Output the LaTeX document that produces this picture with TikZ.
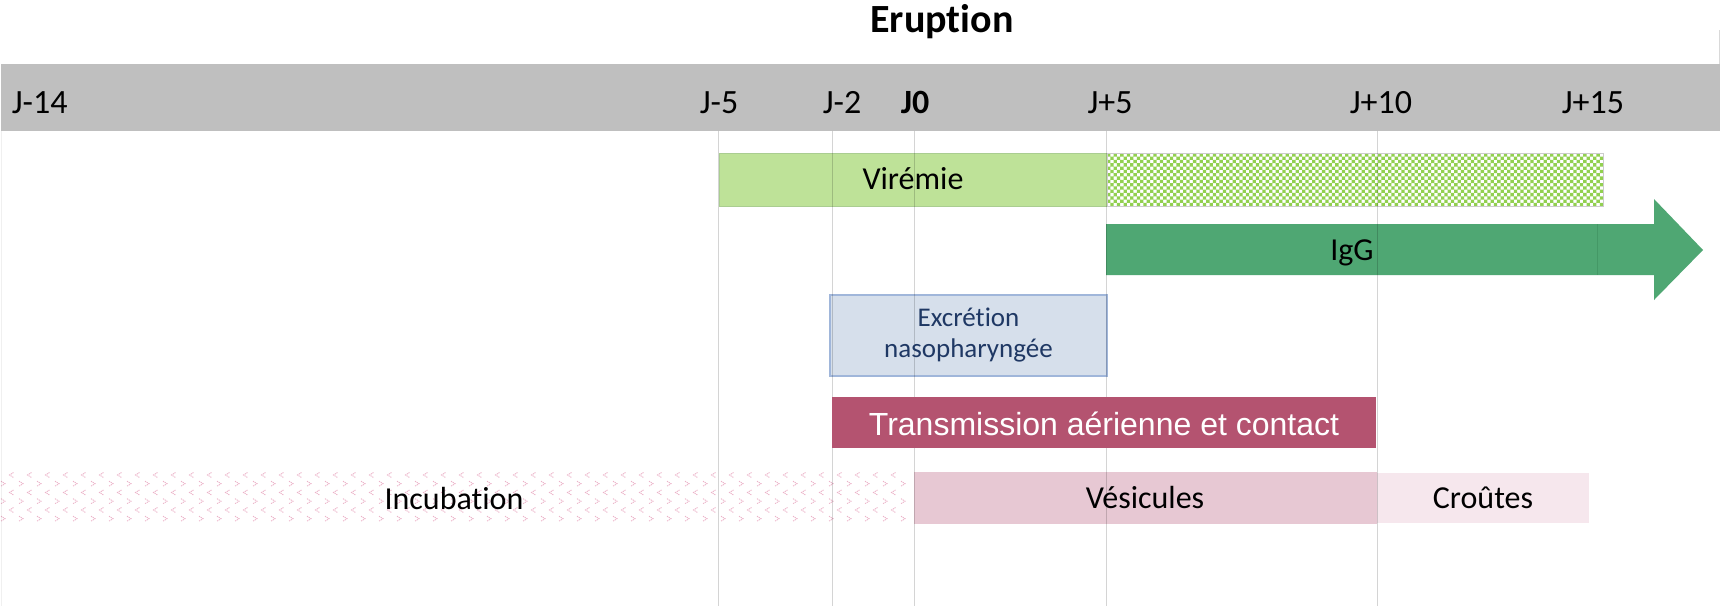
\documentclass[tikz,border=0pt]{standalone}
\usepackage{fontspec}
\setmainfont{Carlito}[Ligatures=NoCommon]
\newfontfamily\arialfont{Liberation Sans}
\definecolor{bandgray}{RGB}{191,191,191}
\definecolor{virfill}{RGB}{190,226,152}
\definecolor{virdraw}{RGB}{170,205,145}
\definecolor{chkgreen}{RGB}{146,208,80}
\definecolor{igg}{RGB}{79,167,115}
\definecolor{iggseam}{RGB}{68,152,102}
\definecolor{excfill}{RGB}{214,223,235}
\definecolor{excdraw}{RGB}{160,182,218}
\definecolor{exctext}{RGB}{31,56,100}
\definecolor{transfill}{RGB}{180,83,112}
\definecolor{vesfill}{RGB}{231,200,211}
\definecolor{crofill}{RGB}{246,231,237}
\definecolor{incpink}{RGB}{236,178,200}
\begin{document}
\begin{tikzpicture}[x=0.5pt,y=-0.5pt,
  daylbl/.style={inner sep=0pt,anchor=base,font=\fontsize{17}{20}\selectfont},
  barlbl/.style={inner sep=0pt,anchor=base,font=\fontsize{16}{19}\selectfont},
  gridline/.style={draw=black,draw opacity=0.17,line width=0.5pt},
  chev/.style={draw=incpink,line width=0.45pt,dash pattern=on 0.6pt off 0.4pt}]
\useasboundingbox (0,0) rectangle (1720,606);
\fill[white] (0,0) rectangle (1720,606);
% header band
\fill[bandgray] (1,63.5) rectangle (1720,130.5);
\draw[draw=black!15,line width=0.5pt] (1719,30) -- (1719,64);
% Viremie
\filldraw[fill=virfill,draw=virdraw,line width=0.5pt] (719,153.3) rectangle (1107,206.2);
% checkered continuation
\fill[chkgreen] \foreach \j in {0,...,15}{ \foreach \i in {0,2,...,148}{
   ({1107+(\i+mod(\j,2))*3.307},{153.3+\j*3.307}) rectangle ++(3.307,3.307) } };
\draw[draw=black!20,line width=0.4pt] (1107,153.3) rectangle (1603,206.2);
% IgG arrow
\fill[igg] (1106,224) -- (1654,224) -- (1654,199) -- (1703,250) -- (1654,300) -- (1654,275) -- (1106,275) -- cycle;
\draw[iggseam,line width=0.5pt] (1597,224) -- (1597,275);
% Excretion
\filldraw[fill=excfill,draw=excdraw,line width=0.6pt] (830,295) rectangle (1107,376);
% Vesicules, Croutes
\fill[vesfill] (914,471.5) rectangle (1377,523.5);
\fill[crofill] (1377,472.5) rectangle (1589,523);
% Incubation chevrons
\foreach \i in {0,...,49}{ \foreach \yy in {475,492.5,510}{
   \draw[chev] ({11.5+18*\i+2},{\yy-2.5}) -- ({11.5+18*\i-2},\yy) -- ({11.5+18*\i+2},{\yy+2.5}); } }
\foreach \i in {0,...,50}{ \foreach \yy in {483.7,501.2,518.7}{
   \draw[chev] ({3+18*\i-2},{\yy-2.5}) -- ({3+18*\i+2},\yy) -- ({3+18*\i-2},{\yy+2.5}); } }
% grid lines
\coordinate (tl) at (1,130.5); \coordinate (bl) at (1,606);
\draw[draw=black,draw opacity=0.06,line width=0.5pt] (tl) -- (bl);
\foreach \n/\x in {m5/718,m2/832,z/914,p5/1106,p10/1377}{
  \coordinate (t\n) at (\x,130.5); \coordinate (b\n) at (\x,606);
  \draw[gridline] (t\n) -- (b\n); }
% Transmission
\fill[transfill] (832,397) rectangle (1376,448);
% texts
\node[inner sep=0pt,anchor=base,font=\bfseries\fontsize{20}{24}\selectfont] (title) at (942,32) {Eruption};
\node[daylbl,anchor=base west] (dm14) at (11.5,113) {J-14};
\node[daylbl] (dm5) at (719,113) {J-5};
\node[daylbl] (dm2) at (842,113) {J-2};
\node[daylbl,font=\bfseries\fontsize{17}{20}\selectfont] (d0) at (915,113) {J0};
\node[daylbl] (dp5) at (1110,113) {J+5};
\node[daylbl] (dp10) at (1381,113) {J+10};
\node[daylbl] (dp15) at (1593,113) {J+15};
\node[barlbl] (vir) at (913,189) {Virémie};
\node[barlbl] (iggl) at (1352,260) {IgG};
\node[inner sep=0pt,align=center,text=exctext,font=\fontsize{13.5}{15.5}\selectfont] (exc) at (968.5,335.5) {Excrétion\\nasopharyngée};
\node[inner sep=0pt,anchor=base,text=white,font=\arialfont\fontsize{16}{19}\selectfont] (trans) at (1104,435) {Transmission aérienne et contact};
\node[barlbl] (inc) at (454,509) {Incubation};
\node[barlbl] (ves) at (1145,508) {Vésicules};
\node[barlbl] (cro) at (1483,508) {Croûtes};
\end{tikzpicture}
\end{document}
